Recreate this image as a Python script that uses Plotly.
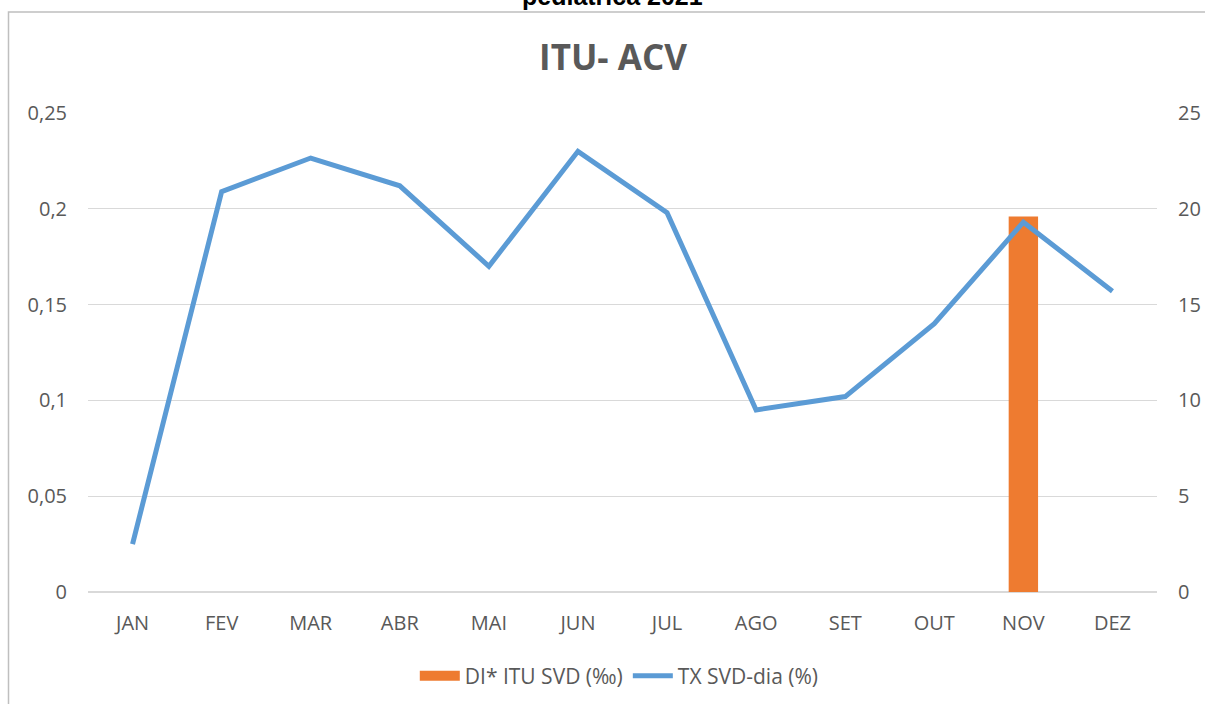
import plotly.graph_objects as go

months = ["JAN", "FEV", "MAR", "ABR", "MAI", "JUN", "JUL", "AGO", "SET", "OUT", "NOV", "DEZ"]
di_itu_svd = [0, 0, 0, 0, 0, 0, 0, 0, 0, 0, 0.196, 0]
tx_svd_dia = [2.5, 20.9, 22.65, 21.2, 17.0, 23.0, 19.8, 9.5, 10.2, 14.0, 19.3, 15.7]

left_ticks = [0, 0.05, 0.1, 0.15, 0.2, 0.25]
left_labels = ["0", "0,05", "0,1", "0,15", "0,2", "0,25"]
right_ticks = [0, 5, 10, 15, 20, 25]

GREY = "#595959"
FONT = "Open Sans"
ORANGE = "#EE7B30"
BLUE = "#5B9BD5"

W, H = 1205, 704
L, R, T, B = 88, 48, 113, 112
PW, PH = W - L - R, H - T - B

fig = go.Figure()
fig.add_trace(go.Bar(
    x=months, y=di_itu_svd, name="DI* ITU SVD (‰)",
    marker=dict(color=ORANGE, line=dict(width=0)),
    width=0.33, yaxis="y", showlegend=False,
))
# legend entry for the bars (wide rectangle swatch)
fig.add_trace(go.Scatter(
    x=[None], y=[None], name="DI* ITU SVD (‰)", mode="lines",
    line=dict(color=ORANGE, width=12), yaxis="y", showlegend=True,
))
fig.add_trace(go.Scatter(
    x=months, y=tx_svd_dia, name="TX SVD-dia (%)", mode="lines",
    line=dict(color=BLUE, width=5), yaxis="y2",
))

fig.update_layout(
    width=W, height=H,
    paper_bgcolor="white", plot_bgcolor="white",
    margin=dict(l=L, r=R, t=T, b=B),
    font=dict(family=FONT, color=GREY, size=20),
    title=dict(text="<b>ITU- ACV</b>", x=613 / W, xanchor="center", y=1 - 58 / H, yanchor="middle",
               font=dict(family=FONT, size=35, color=GREY)),
    xaxis=dict(type="category", showgrid=False, showline=False, zeroline=False, automargin=False,
               ticks="", tickfont=dict(size=20, color=GREY), ticklabelstandoff=17),
    yaxis=dict(range=[0, 0.25], tickvals=left_ticks, ticktext=left_labels, automargin=False,
               showgrid=True, gridcolor="#D9D9D9", gridwidth=1, zeroline=True,
               zerolinecolor="#D9D9D9", zerolinewidth=1.5,
               tickfont=dict(size=20, color=GREY), ticks="", ticklabelstandoff=20),
    yaxis2=dict(range=[0, 25], tickvals=right_ticks, overlaying="y", side="right", automargin=False,
                showgrid=False, zeroline=False, tickfont=dict(size=20, color=GREY),
                ticks="", ticklabelstandoff=20),
    legend=dict(orientation="h", x=0.497, xanchor="center", yref="container", y=1 - 676 / H,
                yanchor="middle", font=dict(size=21, color=GREY), itemwidth=40,
                bgcolor="rgba(0,0,0,0)"),
    showlegend=True,
)

# chart frame (left and top edges visible)
fig.add_shape(type="rect", xref="paper", yref="paper",
              x0=(8.5 - L) / PW, x1=(W + 10 - L) / PW, y0=-0.3, y1=1 + (T - 12) / PH,
              line=dict(color="#BFBFBF", width=1.5), fillcolor="rgba(0,0,0,0)", layer="below")

# cut-off heading at the top
fig.add_annotation(text="<b>pediatrica 2021</b>", xref="paper", yref="paper",
                   x=(612 - L) / PW, y=1.0, xanchor="center", yanchor="bottom", yshift=T - 12,
                   showarrow=False, font=dict(family="Liberation Sans", size=25, color="black"))

fig.write_html("out.html", config={"displayModeBar": False},
               post_script="document.body.style.margin='0';document.body.style.overflow='hidden';")
